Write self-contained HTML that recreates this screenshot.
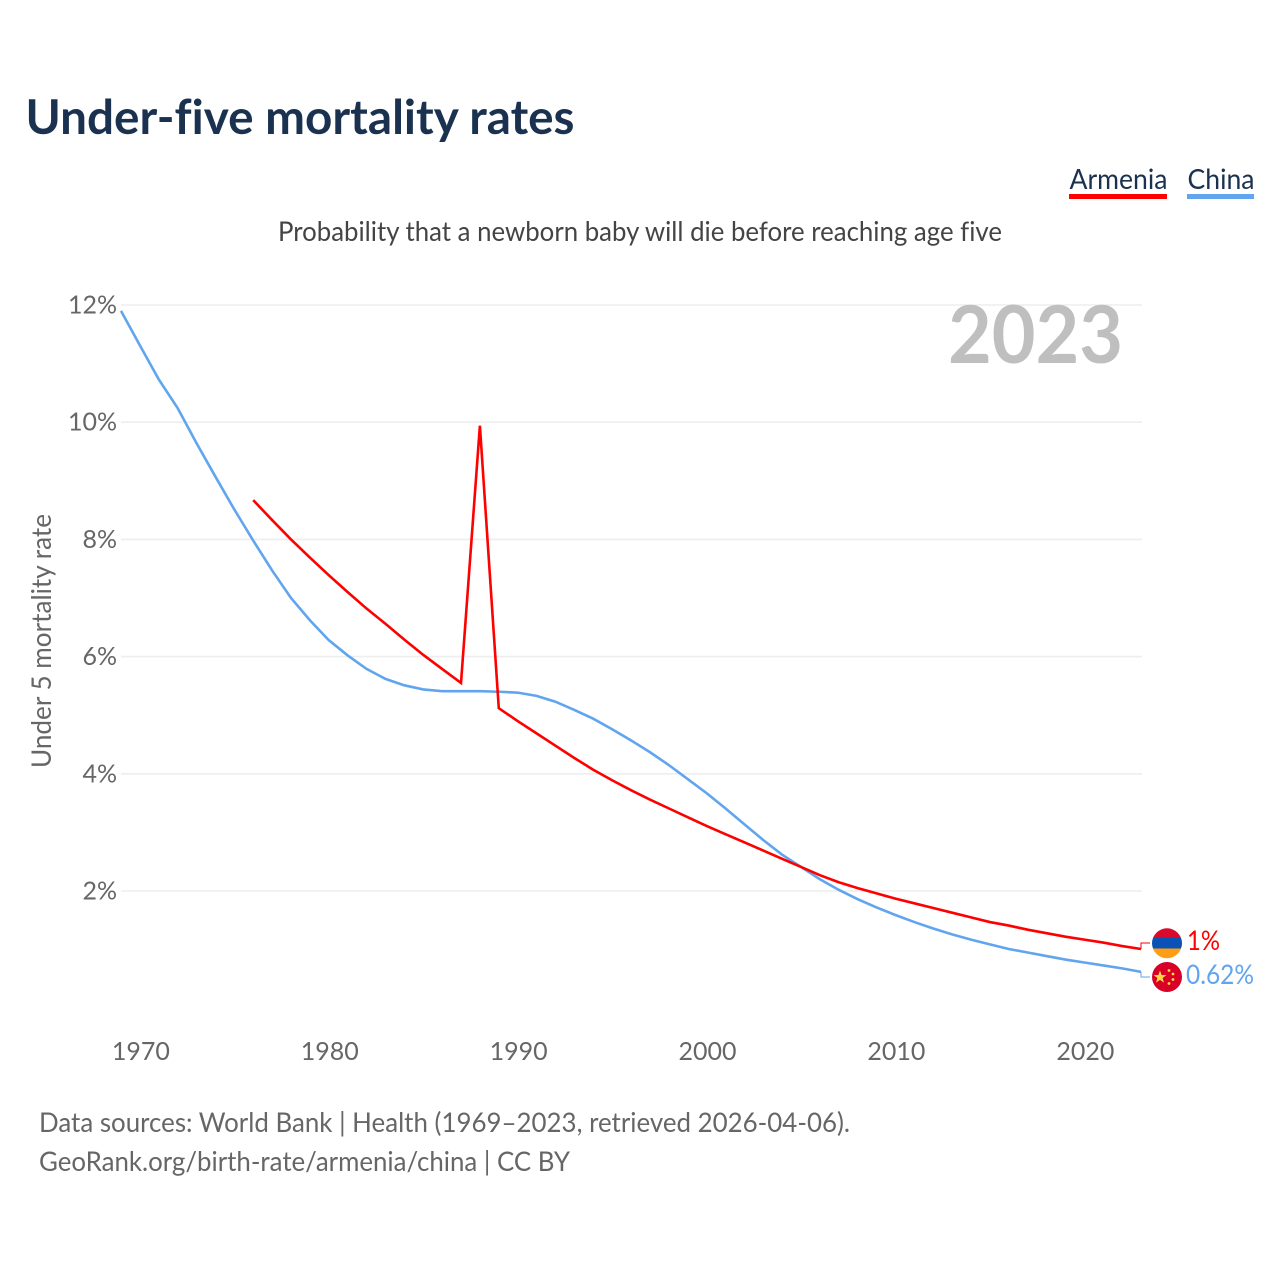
<!DOCTYPE html>
<html lang="en">
<head>
<meta charset="utf-8">
<title>Under-five mortality rates</title>
<style>
html,body{margin:0;padding:0;background:#fff;}
svg{display:block;}
text{font-family:"Lato","Carlito","Liberation Sans",sans-serif;font-variant-ligatures:none;}
</style>
</head>
<body>
<svg id="chart" xmlns="http://www.w3.org/2000/svg" width="1280" height="1280" viewBox="0 0 1280 1280">
  <rect x="0" y="0" width="1280" height="1280" fill="#ffffff"/>
  <text x="25.5" y="134" font-size="48" font-weight="700" fill="#1a3150" textLength="549" lengthAdjust="spacingAndGlyphs">Under-five mortality rates</text>

  <g>
    <text x="1069.5" y="189" font-size="28" fill="#1a3150" textLength="98" lengthAdjust="spacingAndGlyphs">Armenia</text>
    <rect x="1069" y="194" width="98" height="5" fill="#ff0000"/>
  </g>
  <g>
    <text x="1187.5" y="189" font-size="28" fill="#1a3150" textLength="67" lengthAdjust="spacingAndGlyphs">China</text>
    <rect x="1187" y="194" width="67" height="5" fill="#60a5ee"/>
  </g>

  <text x="278" y="241" font-size="27" fill="#444444" textLength="724" lengthAdjust="spacingAndGlyphs">Probability that a newborn baby will die before reaching age five</text>

  <g id="grid"></g>
  <g id="yticks"></g>
  <g id="xticks"></g>

  <text x="948" y="363" font-size="80" font-weight="700" fill="#bfbfbf" textLength="175" lengthAdjust="spacingAndGlyphs">2023</text>

  <text transform="translate(51 768) rotate(-90)" x="0" y="0" font-size="27" fill="#666666" textLength="254" lengthAdjust="spacingAndGlyphs">Under 5 mortality rate</text>

  <g id="series"></g>

  <g>
    <clipPath id="clip-am"><circle cx="1167" cy="943.3" r="15"/></clipPath>
    <g clip-path="url(#clip-am)">
      <rect x="1150" y="926" width="34" height="11.5" fill="#d90a2c"/>
      <rect x="1150" y="937.5" width="34" height="11" fill="#0a52b5"/>
      <rect x="1150" y="948.5" width="34" height="12" fill="#ff9d14"/>
    </g>
  </g>
  <g>
    <circle cx="1167" cy="977" r="15" fill="#d80027"/>
    <polygon fill="#ffda44" points="1160,970.5 1161.6,975 1166.4,975.1 1162.6,978 1164,982.6 1160,979.9 1156,982.6 1157.4,978 1153.6,975.1 1158.4,975"/>
    <circle cx="1169" cy="970.5" r="1.4" fill="#ffda44"/>
    <circle cx="1173" cy="974" r="1.4" fill="#ffda44"/>
    <circle cx="1173" cy="979.5" r="1.4" fill="#ffda44"/>
    <circle cx="1169" cy="983.5" r="1.4" fill="#ffda44"/>
  </g>
  <text x="1187" y="950" font-size="27" fill="#ff0000" textLength="33" lengthAdjust="spacingAndGlyphs">1%</text>
  <text x="1186" y="984" font-size="27" fill="#60a5ee" textLength="68" lengthAdjust="spacingAndGlyphs">0.62%</text>

  <text x="39" y="1132" font-size="27" fill="#666666" textLength="811" lengthAdjust="spacingAndGlyphs">Data sources: World Bank | Health (1969–2023, retrieved 2026-04-06).</text>
  <text x="39" y="1171" font-size="27" fill="#666666" textLength="531" lengthAdjust="spacingAndGlyphs">GeoRank.org/birth-rate/armenia/china | CC BY</text>
</svg>
<script>
const yTickValues = [2, 4, 6, 8, 10, 12];
const yTickLabels = ["2%", "4%", "6%", "8%", "10%", "12%"];
const xTickYears = [1970, 1980, 1990, 2000, 2010, 2020];
const xTickLabels = ["1970", "1980", "1990", "2000", "2010", "2020"];
const chinaYears = [1969,1970,1971,1972,1973,1974,1975,1976,1977,1978,1979,1980,1981,1982,1983,1984,1985,1986,1987,1988,1989,1990,1991,1992,1993,1994,1995,1996,1997,1998,1999,2000,2001,2002,2003,2004,2005,2006,2007,2008,2009,2010,2011,2012,2013,2014,2015,2016,2017,2018,2019,2020,2021,2022,2023];
const chinaValues = [11.9,11.31,10.73,10.24,9.64,9.07,8.51,7.98,7.47,7.0,6.62,6.28,6.02,5.79,5.62,5.51,5.44,5.41,5.41,5.41,5.4,5.385,5.33,5.23,5.09,4.94,4.76,4.57,4.37,4.15,3.91,3.67,3.41,3.14,2.87,2.62,2.41,2.2,2.02,1.86,1.72,1.59,1.47,1.36,1.26,1.17,1.09,1.01,0.95,0.89,0.83,0.78,0.73,0.68,0.62];
const armeniaYears = [1976,1977,1978,1979,1980,1981,1982,1983,1984,1985,1986,1987,1988,1989,1990,1991,1992,1993,1994,1995,1996,1997,1998,1999,2000,2001,2002,2003,2004,2005,2006,2007,2008,2009,2010,2011,2012,2013,2014,2015,2016,2017,2018,2019,2020,2021,2022,2023];
const armeniaValues = [8.67,8.33,8.0,7.69,7.39,7.1,6.82,6.56,6.29,6.03,5.79,5.55,9.94,5.12,4.9,4.69,4.48,4.27,4.07,3.89,3.72,3.56,3.41,3.26,3.11,2.97,2.83,2.69,2.55,2.41,2.27,2.15,2.05,1.96,1.87,1.79,1.71,1.63,1.55,1.47,1.41,1.34,1.28,1.22,1.17,1.12,1.06,1.01];

const SVG_NS = "http://www.w3.org/2000/svg";
const xScale = year => 121 + (year - 1969) * (1141 - 121) / 54;
const yScale = value => 1008.2 - value * 58.6;

const gridGroup = document.getElementById("grid");
const yTickGroup = document.getElementById("yticks");
const xTickGroup = document.getElementById("xticks");
const seriesGroup = document.getElementById("series");

yTickValues.forEach((value, i) => {
  const line = document.createElementNS(SVG_NS, "line");
  
  
  line.setAttribute("x1", 121);
  line.setAttribute("x2", 1142);
  line.setAttribute("y1", yScale(value));
  line.setAttribute("y2", yScale(value));
  line.setAttribute("stroke", "#eeeeee");
  line.setAttribute("stroke-width", 1.6);
  gridGroup.appendChild(line);

  const label = document.createElementNS(SVG_NS, "text");
  
  
  label.setAttribute("x", 117);
  label.setAttribute("y", yScale(value) + 8.5);
  label.setAttribute("text-anchor", "end");
  label.setAttribute("font-size", 25);
  label.setAttribute("fill", "#666666");
  label.textContent = yTickLabels[i];
  yTickGroup.appendChild(label);
});

xTickYears.forEach((year, i) => {
  const label = document.createElementNS(SVG_NS, "text");
  
  
  label.setAttribute("x", xScale(year) + 1);
  label.setAttribute("y", 1060);
  label.setAttribute("text-anchor", "middle");
  label.setAttribute("font-size", 25);
  label.setAttribute("fill", "#666666");
  label.textContent = xTickLabels[i];
  xTickGroup.appendChild(label);
});

function linePoints(years, values) {
  return years.map((year, i) => xScale(year).toFixed(2) + "," + yScale(values[i]).toFixed(2)).join(" ");
}

const chinaLine = document.createElementNS(SVG_NS, "polyline");


chinaLine.setAttribute("points", linePoints(chinaYears, chinaValues));
chinaLine.setAttribute("fill", "none");
chinaLine.setAttribute("stroke", "#60a5ee");
chinaLine.setAttribute("stroke-width", 2.6);
seriesGroup.appendChild(chinaLine);

const armeniaLine = document.createElementNS(SVG_NS, "polyline");


armeniaLine.setAttribute("points", linePoints(armeniaYears, armeniaValues));
armeniaLine.setAttribute("fill", "none");
armeniaLine.setAttribute("stroke", "#ff0000");
armeniaLine.setAttribute("stroke-width", 2.6);
seriesGroup.appendChild(armeniaLine);

const armeniaLast = yScale(armeniaValues[armeniaValues.length - 1]);
const chinaLast = yScale(chinaValues[chinaValues.length - 1]);

const armeniaConnector = document.createElementNS(SVG_NS, "polyline");


armeniaConnector.setAttribute("points", "1141," + armeniaLast + " 1141,943 1150,943");
armeniaConnector.setAttribute("fill", "none");
armeniaConnector.setAttribute("stroke", "#ff0000");
armeniaConnector.setAttribute("stroke-width", 1);
seriesGroup.appendChild(armeniaConnector);

const chinaConnector = document.createElementNS(SVG_NS, "polyline");


chinaConnector.setAttribute("points", "1141," + chinaLast + " 1141,977 1150,977");
chinaConnector.setAttribute("fill", "none");
chinaConnector.setAttribute("stroke", "#60a5ee");
chinaConnector.setAttribute("stroke-width", 1);
seriesGroup.appendChild(chinaConnector);
</script>
</body>
</html>
